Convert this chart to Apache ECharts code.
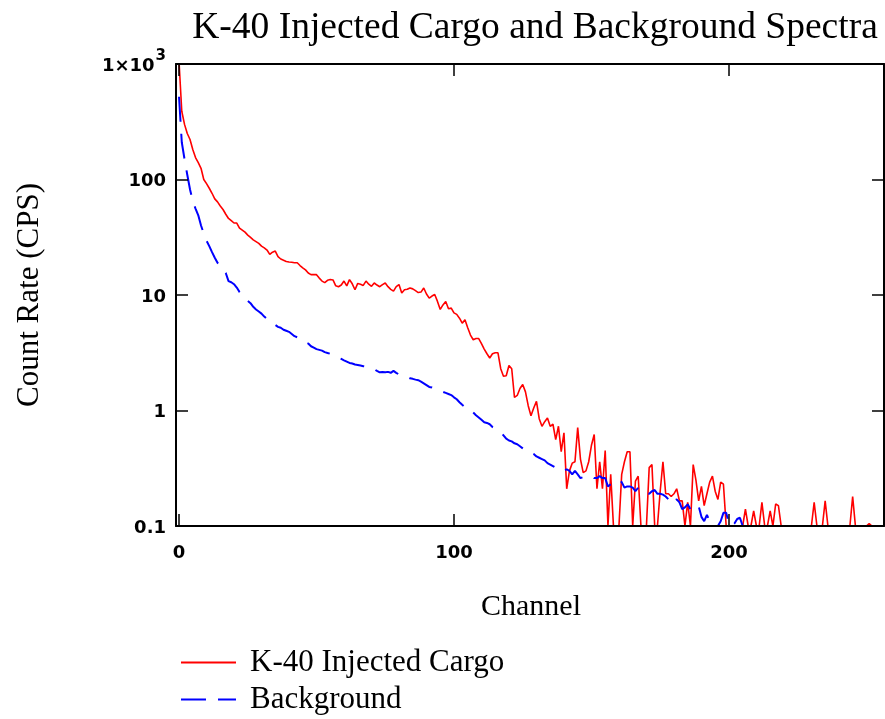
<!DOCTYPE html>
<html>
<head>
<meta charset="utf-8">
<script src="https://cdn.jsdelivr.net/npm/echarts@6/dist/echarts.min.js"></script>
<style>
  html, body { margin: 0; padding: 0; background: #ffffff; }
  #chart { width: 885px; height: 719px; }
</style>
</head>
<body>
<div id="chart"></div>
<script>
// Gamma spectra: count rate per MCA channel (0..255)
const cargoCps = [
  1050, 390, 300, 250, 222, 182, 155, 140, 125, 100,
  92, 84, 76, 68, 64, 59, 55, 50, 46, 44,
  42, 42, 38, 36.5, 35, 33, 31.5, 30, 29, 28,
  26.5, 25.6, 24.5, 22.5, 23.5, 24, 21.5, 20.5, 20, 19.5,
  19.3, 19.2, 19, 19, 18, 17.2, 16.5, 15.5, 15, 15,
  15, 14, 13.2, 12.8, 13.4, 13.6, 13.5, 12, 11.8, 12.2,
  13.2, 12, 13.6, 12.5, 11.1, 12.6, 12.4, 12.1, 13.2, 12.4,
  11.9, 12.7, 12.2, 11.8, 12.3, 12.7, 11.8, 11.2, 10.8, 11.8,
  12.3, 10.4, 11.1, 11.2, 11.5, 11.3, 10.9, 10.5, 10.6, 11.5,
  10.2, 9.4, 9.8, 10.1, 8.8, 7.5, 8.2, 8.8, 7.6, 7.7,
  7.0, 6.8, 6.3, 5.7, 6.1, 5.2, 4.5, 4.1, 4.2, 4.2,
  3.8, 3.4, 3.1, 2.85, 3.1, 3.16, 3.16, 2.3, 1.98, 2.0,
  2.45, 2.3, 1.3, 1.35, 1.55, 1.68, 1.45, 1.1, 0.9, 1.05,
  1.2, 0.85, 0.73, 0.8, 0.86, 0.73, 0.76, 0.56, 0.73, 0.44,
  0.64, 0.21, 0.3, 0.35, 0.36, 0.71, 0.38, 0.29, 0.3, 0.36,
  0.5, 0.62, 0.21, 0.36, 0.21, 0.45, 0.1, 0.28, 0.1, 0.1,
  0.1, 0.28, 0.36, 0.44, 0.44, 0.1, 0.245, 0.27, 0.1, 0.1,
  0.1, 0.32, 0.34, 0.1, 0.1, 0.2, 0.36, 0.19, 0.19, 0.18,
  0.19, 0.21, 0.165, 0.165, 0.1, 0.16, 0.1, 0.34, 0.25, 0.165,
  0.22, 0.15, 0.19, 0.24, 0.27, 0.2, 0.17, 0.24, 0.23, 0.1,
  0.1, 0.1, 0.1, 0.1, 0.1, 0.1, 0.14, 0.1, 0.1, 0.135,
  0.1, 0.1, 0.16, 0.1, 0.1, 0.135, 0.1, 0.155, 0.15, 0.1,
  0.1, 0.1, 0.1, 0.1, 0.1, 0.1, 0.1, 0.1, 0.1, 0.1,
  0.1, 0.16, 0.1, 0.1, 0.1, 0.165, 0.1, 0.1, 0.1, 0.1,
  0.1, 0.1, 0.1, 0.1, 0.1, 0.18, 0.1, 0.1, 0.1, 0.1,
  0.1, 0.105, 0.1, 0.1, 0.1, 0.1
];

const backgroundCps = [
  520, 210, 150, 110, 82, 65, 56, 49, 40, 34,
  29.5, 26.5, 23.5, 21, 19, 18, 16.5, 15.5, 13.2, 12.9,
  12.4, 11.6, 10.6, 10, 9.5, 8.9, 8.5, 7.9, 7.5, 7.2,
  6.9, 6.5, 6.2, 6.0, 5.7, 5.5, 5.3, 5.2, 5.0, 4.9,
  4.8, 4.6, 4.4, 4.3, 4.2, 4.0, 3.9, 3.8, 3.6, 3.5,
  3.4, 3.35, 3.3, 3.2, 3.15, 3.1, 3.0, 2.95, 2.88, 2.8,
  2.72, 2.65, 2.58, 2.55, 2.5, 2.48, 2.45, 2.42, 2.4, 2.35,
  2.33, 2.28, 2.2, 2.14, 2.15, 2.14, 2.16, 2.12, 2.2, 2.12,
  2.05, 2.0, 1.98, 1.95, 1.9, 1.88, 1.85, 1.83, 1.78, 1.72,
  1.66, 1.6, 1.58, 1.55, 1.52, 1.48, 1.45, 1.42, 1.39, 1.36,
  1.3, 1.25, 1.18, 1.12, 1.07, 1.04, 1.02, 0.96, 0.91, 0.87,
  0.83, 0.79, 0.78, 0.76, 0.72, 0.69, 0.66, 0.64, 0.61, 0.57,
  0.55, 0.54, 0.52, 0.51, 0.49, 0.47, 0.45, 0.44, 0.43, 0.42,
  0.40, 0.39, 0.38, 0.37, 0.35, 0.34, 0.33, 0.32, 0.31, 0.30,
  0.30, 0.31, 0.30, 0.28, 0.30, 0.28, 0.26, 0.265, 0.27, 0.27,
  0.27, 0.26, 0.26, 0.27, 0.26, 0.26, 0.22, 0.23, 0.23, 0.24,
  0.25, 0.24, 0.215, 0.22, 0.22, 0.215, 0.2, 0.215, 0.205, 0.2,
  0.195, 0.19, 0.2, 0.205, 0.19, 0.19, 0.187, 0.18, 0.17, 0.155,
  0.165, 0.17, 0.16, 0.14, 0.145, 0.154, 0.14, 0.135, 0.14, 0.148,
  0.12, 0.11, 0.125, 0.11, 0.103, 0.1, 0.1, 0.11, 0.13, 0.13,
  0.105, 0.1, 0.105, 0.115, 0.118, 0.1, 0.1, 0.1, 0.1, 0.1,
  0.1, 0.1, 0.1, 0.1, 0.1, 0.1, 0.1, 0.1, 0.1, 0.1,
  0.1, 0.1, 0.1, 0.1, 0.1, 0.1, 0.1, 0.1, 0.1, 0.1,
  0.1, 0.1, 0.1, 0.1, 0.1, 0.1, 0.1, 0.1, 0.1, 0.1,
  0.1, 0.1, 0.1, 0.1, 0.1, 0.1, 0.1, 0.1, 0.1, 0.1,
  0.1, 0.1, 0.1, 0.1, 0.1, 0.1
];

// channel index of each sample
const channels = cargoCps.map((_, i) => i);

const seriesNames = ['K-40 Injected Cargo', 'Background'];
const xTickValues = [0, 100, 200];
const yTickLabels = { '-1': '0.1', '0': '1', '1': '10', '2': '100', '3': '{m|1×10}{e|3}' };

const TEXT_SERIF = 'Liberation Serif, Times New Roman, serif';
const TEXT_TICK = 'DejaVu Sans, Verdana, sans-serif';

const chart = echarts.init(document.getElementById('chart'), null, { renderer: 'canvas' });

const frameLine = { show: true, onZero: false, lineStyle: { color: '#000000', width: 2 } };
const tickStyle = { color: '#000000', width: 1.5 };

const tickLabelStyle = {
  fontFamily: TEXT_TICK,
  fontWeight: 'bold',
  fontSize: 18,
  color: '#000000'
};

chart.setOption({
  animation: false,
  backgroundColor: '#ffffff',
  grid: { left: 176, right: 1, top: 64, bottom: 193, containLabel: false },
  xAxis: [
    {
      type: 'value', position: 'bottom', min: -1.1, max: 256.4,
      axisLine: frameLine,
      axisTick: { show: true, inside: true, length: 12, customValues: xTickValues, lineStyle: tickStyle },
      axisLabel: Object.assign({ show: true, margin: 18, customValues: xTickValues }, tickLabelStyle),
      splitLine: { show: false },
      z: 5
    },
    {
      type: 'value', position: 'top', min: -1.1, max: 256.4,
      axisLine: frameLine,
      axisTick: { show: true, inside: true, length: 12, customValues: xTickValues, lineStyle: tickStyle },
      axisLabel: { show: false },
      splitLine: { show: false },
      z: 5
    }
  ],
  yAxis: [
    {
      type: 'log', logBase: 10, position: 'left', min: 0.1, max: 1000,
      axisLine: frameLine,
      axisTick: { show: true, inside: true, length: 12, lineStyle: tickStyle },
      axisLabel: Object.assign({
        show: true, margin: 10,
        padding: [4, 0, 0, 0],
        formatter: v => yTickLabels[String(Math.round(Math.log10(v)))] || '',
        rich: {
          m: Object.assign({}, tickLabelStyle),
          e: { fontFamily: TEXT_TICK, fontSize: 15, color: '#000000', padding: [0, 0, 20, 1] }
        }
      }, tickLabelStyle),
      minorTick: { show: false },
      splitLine: { show: false },
      z: 5
    },
    {
      type: 'log', logBase: 10, position: 'right', min: 0.1, max: 1000,
      axisLine: frameLine,
      axisTick: { show: true, inside: true, length: 12, lineStyle: tickStyle },
      axisLabel: { show: false },
      splitLine: { show: false },
      z: 5
    }
  ],
  legend: {
    orient: 'vertical',
    left: 180,
    top: 647,
    padding: 0,
    itemWidth: 55,
    itemHeight: 14,
    itemGap: 6,
    itemStyle: { opacity: 0 },
    data: seriesNames,
    textStyle: {
      fontFamily: TEXT_SERIF,
      fontSize: 31,
      lineHeight: 31,
      color: '#000000',
      padding: [0, 0, 0, 9]
    }
  },
  series: [
    {
      name: seriesNames[0],
      type: 'line',
      xAxisIndex: 0, yAxisIndex: 0,
      data: cargoCps.map((v, i) => [channels[i], v]),
      symbol: 'none',
      clip: true,
      lineStyle: { color: '#ff0000', width: 1.6 },
      itemStyle: { color: '#ff0000' }
    },
    {
      name: seriesNames[1],
      type: 'line',
      xAxisIndex: 0, yAxisIndex: 0,
      data: backgroundCps.map((v, i) => [channels[i], v]),
      symbol: 'none',
      clip: true,
      lineStyle: { color: '#0000ff', width: 2, type: [25, 12] },
      itemStyle: { color: '#0000ff' }
    }
  ],
  graphic: [
    {
      type: 'text', x: 535, y: 28,
      style: {
        text: 'K-40 Injected Cargo and Background Spectra',
        font: '37.5px ' + TEXT_SERIF, fill: '#000000',
        textAlign: 'center', textVerticalAlign: 'middle'
      }
    },
    {
      type: 'text', x: 531, y: 607,
      style: {
        text: 'Channel',
        font: '30px ' + TEXT_SERIF, fill: '#000000',
        textAlign: 'center', textVerticalAlign: 'middle'
      }
    },
    {
      type: 'text', x: 30, y: 295, rotation: Math.PI / 2,
      style: {
        text: 'Count Rate (CPS)',
        font: '31px ' + TEXT_SERIF, fill: '#000000',
        textAlign: 'center', textVerticalAlign: 'middle'
      }
    }
  ]
});
</script>
</body>
</html>
